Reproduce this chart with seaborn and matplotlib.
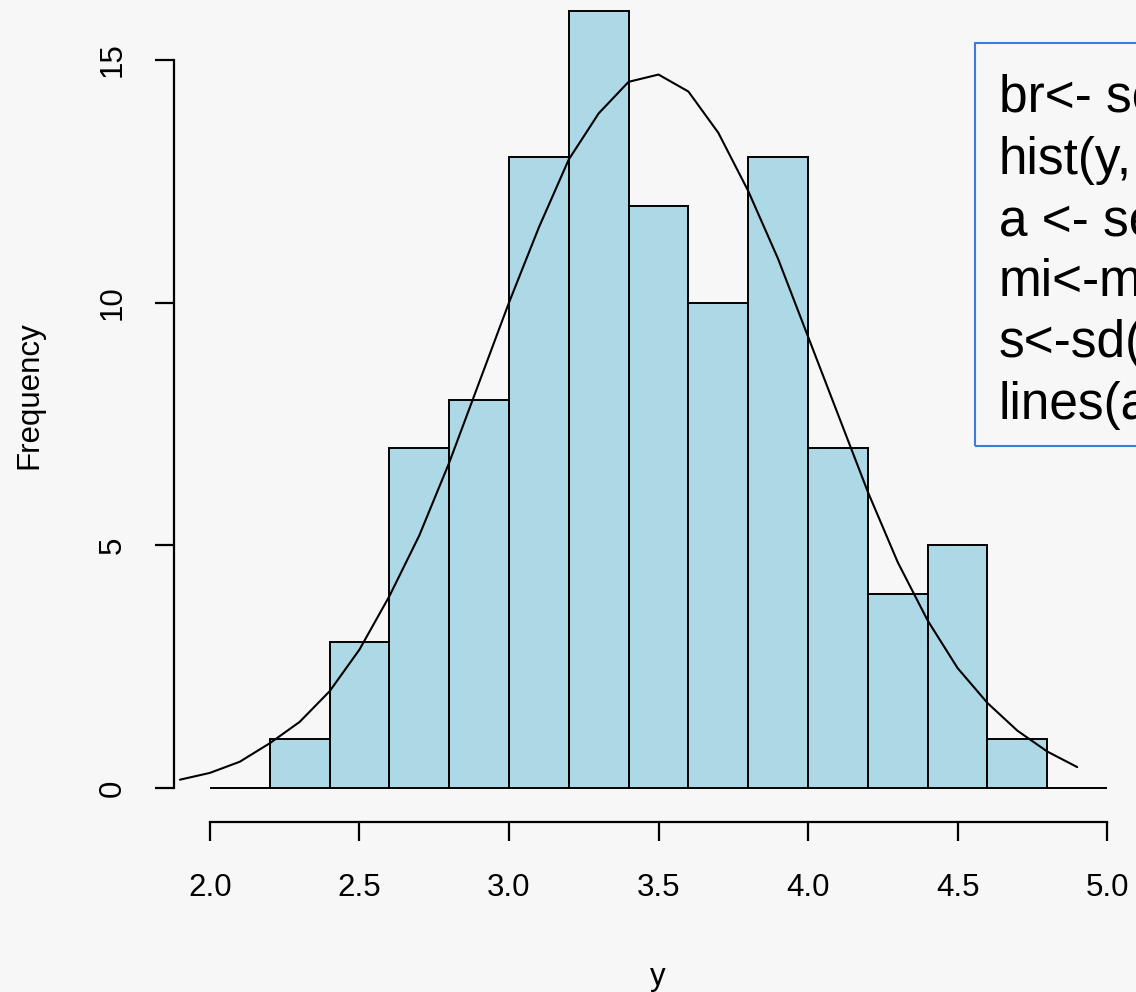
import matplotlib
matplotlib.use('Agg')
import matplotlib.pyplot as plt
import seaborn as sns
from matplotlib.patches import Rectangle

# histogram: breaks and counts
breaks = [2.0, 2.2, 2.4, 2.6, 2.8, 3.0, 3.2, 3.4, 3.6, 3.8, 4.0, 4.2, 4.4, 4.6, 4.8, 5.0]
counts = [0, 1, 3, 7, 8, 13, 16, 12, 10, 13, 7, 4, 5, 1, 0]

# fitted normal curve (scaled to counts)
curve_x = [1.9, 2.0, 2.1, 2.2, 2.3, 2.4, 2.5, 2.6, 2.7, 2.8, 2.9, 3.0, 3.1, 3.2, 3.3, 3.4,
           3.5, 3.6, 3.7, 3.8, 3.9, 4.0, 4.1, 4.2, 4.3, 4.4, 4.5, 4.6, 4.7, 4.8, 4.9]
curve_y = [0.17, 0.31, 0.54, 0.92, 1.36, 1.99, 2.85, 3.95, 5.2, 6.7, 8.35, 10.0, 11.55, 12.95, 13.9, 14.55,
           14.7, 14.35, 13.5, 12.3, 10.9, 9.3, 7.7, 6.1, 4.65, 3.45, 2.47, 1.75, 1.18, 0.75, 0.43]

x_ticks = [2.0, 2.5, 3.0, 3.5, 4.0, 4.5, 5.0]
y_ticks = [0, 5, 10, 15]

# code box text, only the part that is visible in the picture
code_lines = ['br<- se', 'hist(y,', 'a <- se', 'mi<-m', 's<-sd(', 'lines(a']

sns.set_style('ticks')
plt.rcParams['font.family'] = ['Liberation Sans', 'DejaVu Sans']

W, H = 1136, 992
fig = plt.figure(figsize=(W / 100, H / 100), dpi=100, facecolor='#f7f7f7')
ax = fig.add_axes([174 / W, (H - 819) / H, 969 / W, 838.6 / H])
ax.set_facecolor('none')

mids = [(breaks[i] + breaks[i + 1]) / 2 for i in range(len(counts))]
sns.histplot(x=mids, weights=counts, bins=breaks, color='#add8e6', alpha=1,
             edgecolor='black', linewidth=1.4, ax=ax)
sns.lineplot(x=curve_x, y=curve_y, color='black', linewidth=1.5, ax=ax)

ax.set_xlim(1.88, 5.12)
ax.set_ylim(-0.64, 16.64)

sns.despine(ax=ax)
ax.spines['left'].set_bounds(0, 15)
ax.spines['bottom'].set_bounds(2, 5)
ax.spines['bottom'].set_position(('outward', 2))
for s in ['left', 'bottom']:
    ax.spines[s].set_linewidth(1.6)
    ax.spines[s].set_color('black')

ax.set_xticks(x_ticks)
ax.set_xticklabels(['%.1f' % v for v in x_ticks])
ax.set_yticks(y_ticks)
ax.set_yticklabels([str(v) for v in y_ticks])
ax.tick_params(length=13.7, width=1.6, labelsize=22.5, color='black', labelcolor='black')
ax.tick_params(axis='y', labelrotation=90, pad=19.5)
ax.tick_params(axis='x', pad=23.5)
for lab in ax.get_yticklabels():
    lab.set_va('center')

ax.set_xlabel('y', fontsize=22.5, color='black')
ax.xaxis.set_label_coords(0.4995, -0.188)
ax.xaxis.label.set_va('center')
ax.set_ylabel('Frequency', fontsize=22.5, color='black')
ax.yaxis.set_label_coords(-0.1496, 0.5056)
ax.yaxis.label.set_va('center')
ax.yaxis.label.set_ha('center')

# code box on the right, cut off by the figure edge
fig.patches.append(Rectangle((975 / W, (H - 446) / H), 0.2, 403 / H,
                             transform=fig.transFigure, fill=False,
                             edgecolor='#3b7dd8', linewidth=1.5))
baselines = [112, 174, 235, 296, 357, 419]
for txt, b in zip(code_lines, baselines):
    fig.text(999 / W, 1 - b / H, txt, fontsize=37, va='baseline', ha='left', color='black')

fig.savefig('out.png', dpi=100, facecolor=fig.get_facecolor())
